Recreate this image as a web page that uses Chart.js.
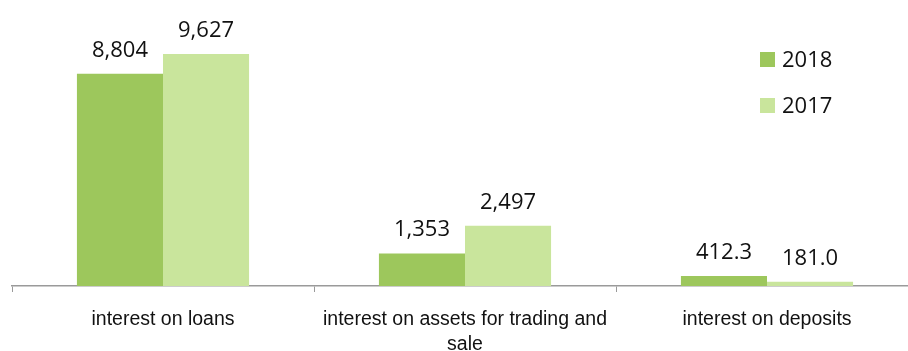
<!DOCTYPE html>
<html><head><meta charset="utf-8">
<script src="https://cdn.jsdelivr.net/npm/chart.js@4"></script>
<style>html,body{margin:0;padding:0;background:#fff;overflow:hidden}#wrap{width:920px;height:351px;position:relative}</style>
</head><body><div id="wrap"><canvas id="c"></canvas></div>
<script>
const categories = [["interest on loans"], ["interest on assets for trading and", "sale"], ["interest on deposits"]];
const seriesNames = ["2018", "2017"];
const values2018 = [8804, 1353, 412.3];
const values2017 = [9627, 2497, 181.0];
const labels2018 = ["8,804", "1,353", "412.3"];
const labels2017 = ["9,627", "2,497", "181.0"];
const colors = ["#9dc75c", "#c9e59c"];

const dataLabelPlugin = {
  id: 'dl',
  afterDatasetsDraw(chart) {
    const ctx = chart.ctx;
    ctx.save();
    ctx.font = '22px "Open Sans", "Noto Sans", sans-serif';
    ctx.fillStyle = '#111';
    ctx.textAlign = 'center';
    ctx.textBaseline = 'alphabetic';
    const lbls = [labels2018, labels2017];
    chart.data.datasets.forEach((ds, di) => {
      chart.getDatasetMeta(di).data.forEach((bar, i) => {
        ctx.fillText(lbls[di][i], bar.x, bar.y - 17);
      });
    });
    // legend
    ctx.textAlign = 'left';
    ctx.textBaseline = 'alphabetic';
    chart.data.datasets.forEach((ds, di) => {
      const y = 59 + di * 46;
      ctx.fillStyle = ds.backgroundColor;
      ctx.fillRect(760, y - 7, 15, 15);
      ctx.fillStyle = '#111';
      ctx.fillText(ds.label, 782, y + 8);
    });
    ctx.restore();
  }
};

new Chart(document.getElementById('c'), {
  type: 'bar',
  data: {
    labels: categories,
    datasets: [
      { label: seriesNames[0], data: values2018, backgroundColor: colors[0] },
      { label: seriesNames[1], data: values2017, backgroundColor: colors[1] }
    ]
  },
  options: {
    responsive: true,
    maintainAspectRatio: false,
    animation: false,
    layout: { padding: { top: 45, left: 12, right: 2, bottom: -21 } },
    plugins: { legend: { display: false }, tooltip: { enabled: false } },
    datasets: { bar: { categoryPercentage: 0.57, barPercentage: 1.0 } },
    scales: {
      x: {
        grid: { display: true, drawOnChartArea: false, drawTicks: true, tickLength: 6, offset: true, color: '#9a9a9a' },
        border: { display: true, color: '#9a9a9a', width: 1.5 },
        ticks: { color: '#111', font: { family: '"Liberation Sans", Arial, sans-serif', size: 19.5, lineHeight: '25px' }, padding: 15, maxRotation: 0, autoSkip: false }
      },
      y: { display: false, min: 0, max: 10000 }
    }
  },
  plugins: [dataLabelPlugin]
});
</script></body></html>
